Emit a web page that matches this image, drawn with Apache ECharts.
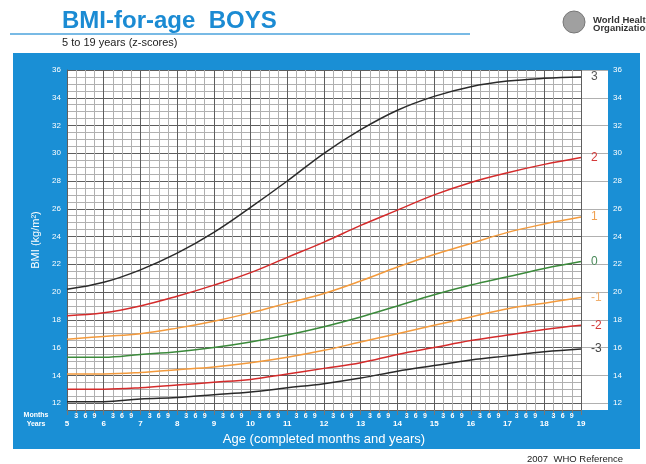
<!DOCTYPE html>
<html>
<head>
<meta charset="utf-8">
<script src="https://cdn.jsdelivr.net/npm/echarts@6/dist/echarts.min.js"></script>
<style>
  html, body { margin: 0; padding: 0; background: #ffffff; }
  #chart { width: 646px; height: 464px; }
</style>
</head>
<body>
<div id="chart"></div>
<script>
// ages in completed years
const ages = [5, 6, 7, 8, 9, 10, 11, 12, 13, 14, 15, 16, 17, 18, 19];
// BMI z-score lines
const sdPos3 = [20.2, 20.7, 21.6, 22.8, 24.3, 26.1, 28.0, 30.0, 31.7, 33.1, 34.1, 34.8, 35.2, 35.4, 35.5];
const sdPos2 = [18.3, 18.5, 19.0, 19.7, 20.5, 21.4, 22.5, 23.6, 24.8, 25.9, 27.0, 27.9, 28.6, 29.2, 29.7];
const sdPos1 = [16.6, 16.8, 17.0, 17.4, 17.9, 18.5, 19.2, 19.9, 20.8, 21.8, 22.7, 23.5, 24.3, 24.9, 25.4];
const sd0 = [15.3, 15.3, 15.5, 15.7, 16.0, 16.4, 16.9, 17.5, 18.2, 19.0, 19.8, 20.5, 21.1, 21.7, 22.2];
const sdNeg1 = [14.1, 14.1, 14.2, 14.4, 14.6, 14.9, 15.3, 15.8, 16.4, 17.0, 17.6, 18.2, 18.8, 19.2, 19.6];
const sdNeg2 = [13.0, 13.0, 13.1, 13.3, 13.5, 13.7, 14.1, 14.5, 14.9, 15.5, 16.0, 16.5, 16.9, 17.3, 17.6];
const sdNeg3 = [12.1, 12.1, 12.3, 12.4, 12.6, 12.8, 13.1, 13.4, 13.8, 14.3, 14.7, 15.1, 15.4, 15.7, 15.9];
const zNames = ["3", "2", "1", "0", "-1", "-2", "-3"];
const monthLabels = ["3", "6", "9"];
const yLabels = [12, 14, 16, 18, 20, 22, 24, 26, 28, 30, 32, 34, 36];

const lines = [sdPos3, sdPos2, sdPos1, sd0, sdNeg1, sdNeg2, sdNeg3];
const lineColors = ["#2a2a2a", "#d42b2b", "#f39a3c", "#3b8a3b", "#f39a3c", "#d42b2b", "#2a2a2a"];
const labelColors = ["#555555", "#d43a3a", "#f0a050", "#4a8a5a", "#f0b070", "#d43a3a", "#444444"];

const blue = "#1a8fd5";
const light = "#b0b0b0";
const dark = "#5e5e5e";
const clear = "rgba(0,0,0,0)";

const chart = echarts.init(document.getElementById("chart"));

const yLabelFmt = (v) => (yLabels.indexOf(v) >= 0 ? String(v) : "");

const option = {
  animation: false,
  grid: [
    { left: 67, right: 65, top: 70, bottom: 54, show: true, backgroundColor: "#ffffff", borderWidth: 0 },
    { left: 581, right: 38, top: 70, bottom: 54, show: true, backgroundColor: "#ffffff", borderWidth: 0 },
  ],
  xAxis: [
    {
      gridIndex: 0,
      type: "value",
      min: 5,
      max: 19,
      interval: 0.25,
      axisLine: { show: true, lineStyle: { color: dark } },
      axisTick: { show: true, length: 5, lineStyle: { color: "#777" } },
      axisLabel: {
        color: "#ffffff",
        fontSize: 7,
        fontWeight: "bold",
        margin: 3,
        formatter: (v) => {
          const q = Math.round((v - Math.floor(v)) * 4);
          return q === 0 ? "" : monthLabels[q - 1];
        },
      },
      splitLine: { show: true, lineStyle: { color: [dark, light, light, light], width: 1 } },
    },
    {
      gridIndex: 0,
      type: "value",
      min: 5,
      max: 19,
      interval: 1,
      position: "bottom",
      axisLine: { show: false },
      axisTick: { show: false },
      splitLine: { show: false },
      axisLabel: { color: "#ffffff", fontSize: 8, fontWeight: "bold", margin: 10 },
      name: "Age (completed months and years)",
      nameLocation: "middle",
      nameGap: 22,
      nameTextStyle: { color: "#ffffff", fontSize: 13 },
    },
    { gridIndex: 1, type: "value", min: 0, max: 1, show: false },
  ],
  yAxis: [
    {
      gridIndex: 0,
      type: "value",
      min: 11.5,
      max: 36,
      interval: 0.5,
      axisLine: { show: true, lineStyle: { color: dark } },
      axisTick: { show: false },
      axisLabel: { color: "#ffffff", fontSize: 8, margin: 6, formatter: yLabelFmt },
      splitLine: { show: true, lineStyle: { color: [light, dark, light, light], width: 1 } },
      name: "BMI (kg/m²)",
      nameLocation: "middle",
      nameRotate: 90,
      nameGap: 24,
      nameTextStyle: { color: "#ffffff", fontSize: 11 },
    },
    {
      gridIndex: 1,
      type: "value",
      min: 11.5,
      max: 36,
      interval: 0.5,
      position: "right",
      axisLine: { show: false },
      axisTick: { show: false },
      axisLabel: { color: "#ffffff", fontSize: 8, margin: 5, formatter: yLabelFmt },
      splitLine: { show: true, lineStyle: { color: [clear, light, clear, clear], width: 1 } },
    },
  ],
  series: lines.map((vals, i) => ({
    name: zNames[i],
    type: "line",
    xAxisIndex: 0,
    yAxisIndex: 0,
    smooth: 0.4,
    symbol: "none",
    lineStyle: { color: lineColors[i], width: 1.5 },
    data: ages.map((a, j) => [a, vals[j]]),
    endLabel: {
      show: true,
      formatter: zNames[i],
      color: labelColors[i],
      fontSize: 12,
      distance: 10,
    },
  })),
  graphic: [
    { type: "rect", z: -10, shape: { x: 13, y: 53, width: 627, height: 396 }, style: { fill: blue } },
    { type: "line", shape: { x1: 10, y1: 34, x2: 470, y2: 34 }, style: { stroke: "#4ba3dc", lineWidth: 1.5 } },
    {
      type: "text",
      x: 62,
      y: 21,
      style: { text: "BMI-for-age  BOYS", font: "bold 24px 'Liberation Sans', Arial", fill: "#1b8bd3", verticalAlign: "middle" },
    },
    {
      type: "text",
      x: 62,
      y: 43,
      style: { text: "5 to 19 years (z-scores)", font: "11px 'Liberation Sans', Arial", fill: "#222", verticalAlign: "middle" },
    },
    { type: "circle", shape: { cx: 574, cy: 22, r: 11 }, style: { fill: "#a0a0a0", stroke: "#777", lineWidth: 1 } },
    {
      type: "text",
      x: 593,
      y: 24,
      style: { text: "World Health\nOrganization", font: "bold 9.5px 'Liberation Sans', Arial", lineHeight: 8, fill: "#333", verticalAlign: "middle" },
    },
    {
      type: "text",
      x: 36,
      y: 415,
      style: { text: "Months", font: "bold 7px 'Liberation Sans', Arial", fill: "#fff", align: "center", verticalAlign: "middle" },
    },
    {
      type: "text",
      x: 36,
      y: 424,
      style: { text: "Years", font: "bold 7px 'Liberation Sans', Arial", fill: "#fff", align: "center", verticalAlign: "middle" },
    },
    {
      type: "text",
      x: 527,
      y: 459,
      style: { text: "2007  WHO Reference", font: "9.5px 'Liberation Sans', Arial", fill: "#222", verticalAlign: "middle" },
    },
  ],
};

chart.setOption(option);
</script>
</body>
</html>
